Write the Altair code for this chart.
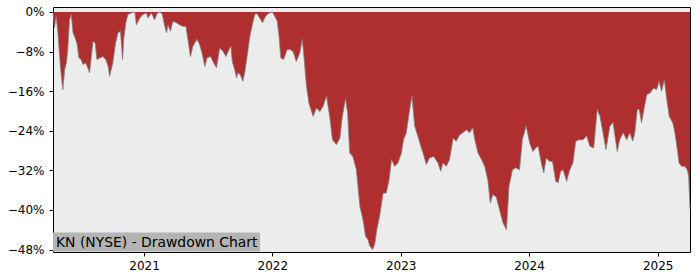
import altair as alt
import pandas as pd

# decimal-year dates
years = [
    2020.291, 2020.304, 2020.318, 2020.330, 2020.351, 2020.369, 2020.382, 2020.395, 2020.408, 2020.421,
    2020.434, 2020.447, 2020.460, 2020.478, 2020.494, 2020.512, 2020.525, 2020.546, 2020.564, 2020.577,
    2020.590, 2020.603, 2020.621, 2020.634, 2020.655, 2020.681, 2020.702, 2020.720, 2020.733, 2020.758,
    2020.780, 2020.797, 2020.816, 2020.832, 2020.842, 2020.857, 2020.875, 2020.902, 2020.928, 2020.941,
    2020.967, 2020.992, 2021.019, 2021.031, 2021.058, 2021.083, 2021.101, 2021.122, 2021.143, 2021.161,
    2021.175, 2021.187, 2021.206, 2021.226, 2021.252, 2021.278, 2021.299, 2021.325, 2021.343, 2021.362,
    2021.382, 2021.413, 2021.434, 2021.452, 2021.473, 2021.491, 2021.517, 2021.538, 2021.564, 2021.590,
    2021.616, 2021.637, 2021.654, 2021.676, 2021.689, 2021.707, 2021.720, 2021.732, 2021.751, 2021.771,
    2021.785, 2021.802, 2021.824, 2021.845, 2021.862, 2021.880, 2021.901, 2021.922, 2021.940, 2021.958,
    2021.979, 2022.000, 2022.018, 2022.039, 2022.052, 2022.065, 2022.088, 2022.114, 2022.141, 2022.161,
    2022.187, 2022.213, 2022.234, 2022.244, 2022.265, 2022.286, 2022.317, 2022.343, 2022.369, 2022.395,
    2022.421, 2022.447, 2022.468, 2022.499, 2022.525, 2022.546, 2022.569, 2022.585, 2022.603, 2022.628,
    2022.655, 2022.681, 2022.706, 2022.727, 2022.745, 2022.758, 2022.780, 2022.797, 2022.815, 2022.836,
    2022.862, 2022.889, 2022.909, 2022.928, 2022.953, 2022.979, 2023.006, 2023.023, 2023.044, 2023.065,
    2023.088, 2023.109, 2023.135, 2023.161, 2023.179, 2023.200, 2023.226, 2023.257, 2023.291, 2023.312,
    2023.330, 2023.356, 2023.382, 2023.408, 2023.434, 2023.460, 2023.485, 2023.512, 2023.538, 2023.563,
    2023.577, 2023.602, 2023.629, 2023.655, 2023.680, 2023.699, 2023.719, 2023.746, 2023.771, 2023.797,
    2023.824, 2023.844, 2023.870, 2023.896, 2023.927, 2023.948, 2023.979, 2024.005, 2024.031, 2024.052,
    2024.070, 2024.096, 2024.114, 2024.135, 2024.161, 2024.182, 2024.208, 2024.226, 2024.247, 2024.265,
    2024.291, 2024.317, 2024.342, 2024.363, 2024.389, 2024.420, 2024.447, 2024.473, 2024.504, 2024.529,
    2024.551, 2024.572, 2024.597, 2024.628, 2024.654, 2024.685, 2024.706, 2024.732, 2024.759, 2024.784,
    2024.805, 2024.823, 2024.841, 2024.857, 2024.875, 2024.893, 2024.914, 2024.940, 2024.966, 2024.992,
    2025.012, 2025.031, 2025.051, 2025.070, 2025.090, 2025.117, 2025.135, 2025.153, 2025.168, 2025.187,
    2025.213, 2025.231, 2025.242, 2025.252,
]

# drawdown in percent
drawdown = [
    0.0, -3.2, -0.9, -4.2, -11.0, -15.7, -11.7, -10.3, -7.6, -1.6,
    -0.5, -4.2, -4.9, -6.3, -9.3, -9.6, -10.6, -10.3, -11.3, -12.3,
    -9.0, -5.9, -6.3, -9.6, -9.3, -9.0, -9.6, -11.0, -13.0, -10.3,
    -6.3, -4.2, -3.9, -9.6, -5.6, -2.2, -0.5, -0.2, 0.0, -2.6,
    -1.2, -0.5, -0.2, -1.2, -0.2, -1.6, -0.3, 0.0, -0.5, -2.9,
    -4.2, -2.6, -3.9, -1.9, -2.2, -2.6, -2.9, -2.9, -5.6, -9.0,
    -6.9, -5.5, -6.6, -8.3, -11.0, -9.3, -9.0, -10.0, -11.3, -7.3,
    -8.0, -9.0, -8.0, -6.9, -10.0, -11.7, -13.3, -12.3, -12.7, -14.0,
    -12.0, -9.0, -4.9, -2.6, -0.5, -0.3, -1.2, -2.2, -1.2, -0.5,
    -0.2, 0.0, -0.9, -1.9, -4.9, -9.3, -9.6, -7.6, -7.6, -8.0,
    -10.0, -8.3, -5.5, -8.3, -15.0, -18.4, -21.1, -19.4, -20.1, -19.1,
    -17.0, -21.1, -25.8, -26.8, -25.5, -21.1, -17.5, -20.4, -28.5, -29.2,
    -31.9, -39.3, -42.0, -45.3, -46.0, -47.3, -48.0, -47.0, -44.0, -41.3,
    -36.6, -36.6, -33.9, -29.8, -31.2, -30.5, -28.5, -25.8, -24.4, -20.4,
    -17.0, -23.1, -25.1, -27.5, -28.8, -30.8, -29.5, -29.2, -30.5, -32.2,
    -30.5, -31.2, -29.8, -25.5, -26.1, -24.8, -24.4, -23.8, -24.4, -23.4,
    -25.8, -28.5, -29.8, -31.2, -34.0, -38.6, -36.9, -37.4, -39.9, -42.6,
    -44.0, -35.2, -31.9, -31.5, -31.9, -25.8, -23.0, -26.5, -28.2, -27.5,
    -27.1, -30.5, -32.5, -29.5, -30.2, -30.2, -34.2, -34.5, -32.2, -31.9,
    -34.2, -31.9, -30.5, -26.1, -25.8, -25.8, -25.0, -27.1, -27.5, -19.7,
    -21.1, -23.8, -27.8, -23.1, -22.3, -28.2, -25.8, -24.4, -25.8, -24.4,
    -26.1, -24.4, -19.7, -19.7, -22.4, -19.7, -16.7, -16.4, -15.4, -15.7,
    -14.0, -16.0, -13.7, -17.7, -21.1, -22.4, -24.4, -27.8, -30.5, -31.2,
    -31.2, -31.9, -33.0, -39.9,
]

y_ticks = [0, -8, -16, -24, -32, -40, -48]
x_tick_years = [2021, 2022, 2023, 2024, 2025]
title_text = "KN (NYSE) - Drawdown Chart"


def dec_to_date(t):
    y = int(t)
    start = pd.Timestamp(year=y, month=1, day=1)
    ndays = (pd.Timestamp(year=y + 1, month=1, day=1) - start).days
    return (start + pd.Timedelta(days=round((t - y) * ndays))).strftime("%Y-%m-%d")


df = pd.DataFrame({
    "date": [dec_to_date(t) for t in years],
    "dd": drawdown,
    "zero": [0.0] * len(drawdown),
})

x_domain = [dec_to_date(years[0]), dec_to_date(years[-1])]
x_scale = alt.Scale(domain=x_domain, nice=False)
y_scale = alt.Scale(domain=[-48.5, 1.0], nice=False, zero=False)

x_axis = alt.Axis(
    values=[alt.DateTime(year=y, month=1, date=1) for y in x_tick_years],
    format="%Y", title=None, grid=False, domain=False,
    tickColor="black", tickSize=4, labelColor="black",
    labelFont="DejaVu Sans", labelFontSize=12, labelPadding=4,
)
y_axis = alt.Axis(
    values=y_ticks, title=None, grid=False, domain=False,
    tickColor="black", tickSize=4, labelColor="black",
    labelFont="DejaVu Sans", labelFontSize=12, labelPadding=5,
    labelExpr="replace(format(datum.value, 'd'), '-', '\u2212') + '%'",
)

base = alt.Chart(df)

area = base.mark_area(color="#af2f2f", interpolate="linear").encode(
    x=alt.X("date:T", scale=x_scale, axis=x_axis),
    y=alt.Y("dd:Q", scale=y_scale, axis=y_axis),
    y2="zero:Q",
)

edge = base.mark_line(color="#808080", strokeWidth=1, opacity=0.8).encode(
    x=alt.X("date:T", scale=x_scale),
    y=alt.Y("dd:Q", scale=y_scale),
)

box = alt.Chart(pd.DataFrame({"t": [title_text]})).mark_rect(
    color="#b4b4b4"
).encode(
    x=alt.value(0), x2=alt.value(207), y=alt.value(225.4), y2=alt.value(244.5)
)

label = alt.Chart(pd.DataFrame({"t": [title_text]})).mark_text(
    align="left", baseline="alphabetic", font="DejaVu Sans", fontSize=13.9, color="black"
).encode(
    x=alt.value(3), y=alt.value(240), text="t:N"
)

chart = alt.layer(area, edge, box, label).properties(
    width=637, height=245,
    autosize=alt.AutoSizeParams(type="none"),
    padding={"left": 53, "top": 7, "right": 10, "bottom": 28},
    background="white",
).configure_view(
    fill="#ececec", stroke="black", strokeWidth=1
)

chart.save("out.html", embed_options={"renderer": "svg", "actions": False})
